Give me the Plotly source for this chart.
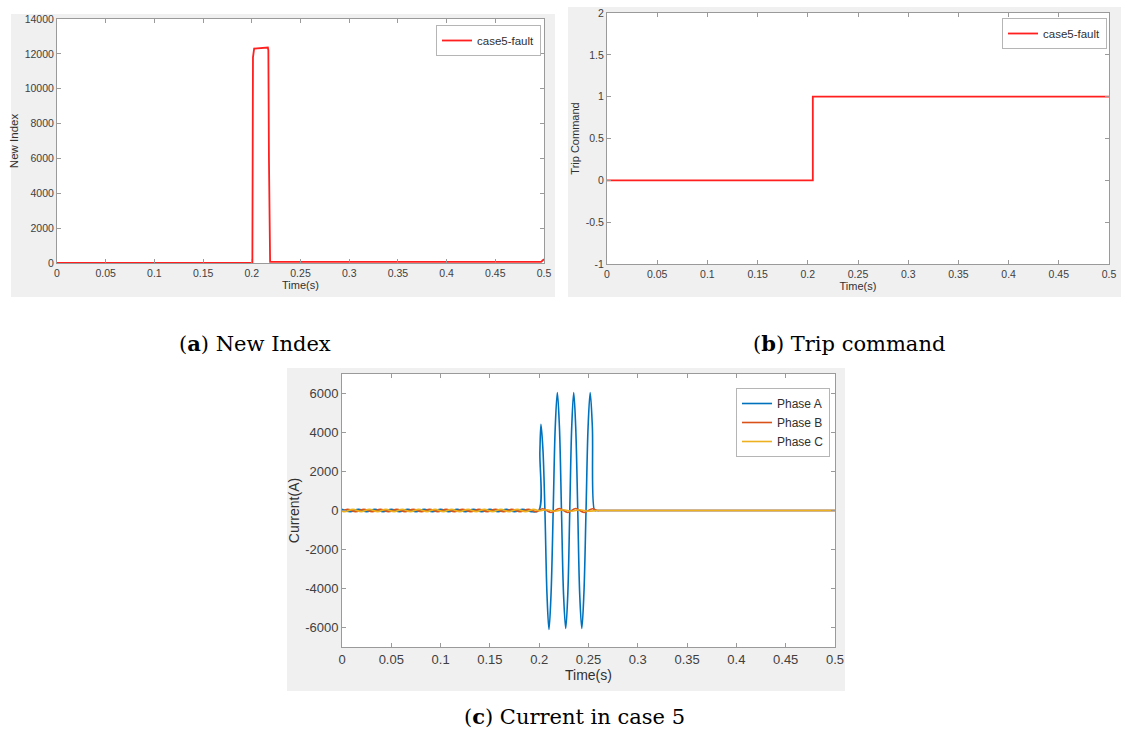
import plotly.graph_objects as go

W, H = 1121, 733

# ---------------- data ----------------
# (a) New Index
idx_t = [0.0, 0.1, 0.2006, 0.2012, 0.2018, 0.2024, 0.2165, 0.2170, 0.2176, 0.2188, 0.25, 0.35, 0.45, 0.497, 0.5]
idx_v = [0, 0, 0, 11800, 12250, 12300, 12360, 12200, 6000, 60, 60, 55, 55, 60, 220]

# (b) Trip command
trip_t = [0.0, 0.205, 0.5]
trip_v = [0, 1, 1]

# (c) Currents: key points
ia_t = [0.0, 0.0083, 0.0167, 0.025, 0.0333, 0.0417, 0.05, 0.0583, 0.0667, 0.075, 0.0833, 0.0917,
        0.1, 0.1083, 0.1167, 0.125, 0.1333, 0.1417, 0.15, 0.1583, 0.1667, 0.175, 0.1833, 0.1917,
        0.1995, 0.2007, 0.2018, 0.2038, 0.2058, 0.2079, 0.2099, 0.2120, 0.2142, 0.2163, 0.2184,
        0.2205, 0.2226, 0.2247, 0.2269, 0.2290, 0.2310, 0.2330, 0.2350, 0.2370, 0.2391, 0.2411,
        0.2432, 0.2453, 0.2475, 0.2496, 0.2517, 0.2539, 0.2562, 0.2580, 0.2650, 0.30, 0.40, 0.5]
ia_v = [60, -60, 60, -60, 60, -60, 60, -60, 60, -60, 60, -60,
        60, -60, 60, -60, 60, -60, 60, -60, 60, -60, 60, -60,
        0, 3000, 4415, 3100, 0, -4300, -6100, -4300, 0, 4300, 6050,
        4300, 0, -4300, -6050, -4300, 0, 4300, 6050, 4300, 0, -4300,
        -6050, -4300, 0, 4300, 6050, 4300, 0, 0, 0, 0, 0, 0]

ib_t = [0.0, 0.0056, 0.0139, 0.0222, 0.0306, 0.0389, 0.0472, 0.0556, 0.0639, 0.0722, 0.0806, 0.0889,
        0.0972, 0.1056, 0.1139, 0.1222, 0.1306, 0.1389, 0.1472, 0.1556, 0.1639, 0.1722, 0.1806, 0.1889,
        0.1972, 0.2035, 0.2120, 0.2205, 0.2290, 0.2370, 0.2455, 0.2540, 0.2590, 0.2620, 0.2700,
        0.30, 0.40, 0.5]
ib_v = [-30, 60, -60, 60, -60, 60, -60, 60, -60, 60, -60, 60,
        -60, 60, -60, 60, -60, 60, -60, 60, -60, 60, -60, 60,
        -60, 90, -100, 100, -100, 100, -100, 90, 0, 0, 0,
        0, 0, 0]

ic_t = [0.0, 0.0028, 0.0111, 0.0194, 0.0278, 0.0361, 0.0444, 0.0528, 0.0611, 0.0694, 0.0778, 0.0861,
        0.0944, 0.1028, 0.1111, 0.1194, 0.1278, 0.1361, 0.1444, 0.1528, 0.1611, 0.1694, 0.1778, 0.1861,
        0.1944, 0.2000, 0.2080, 0.2160, 0.2245, 0.2330, 0.2410, 0.2495, 0.2585, 0.2620, 0.2700,
        0.30, 0.40, 0.5]
ic_v = [-30, -60, 60, -60, 60, -60, 60, -60, 60, -60, 60, -60,
        60, -60, 60, -60, 60, -60, 60, -60, 60, -60, 60, -60,
        60, -20, 40, -40, 40, -40, 40, -40, 0, 0, 0,
        0, 0, 0]

# ticks
t_ticks = [0, 0.05, 0.1, 0.15, 0.2, 0.25, 0.3, 0.35, 0.4, 0.45, 0.5]
t_labels = ["0", "0.05", "0.1", "0.15", "0.2", "0.25", "0.3", "0.35", "0.4", "0.45", "0.5"]
idx_ticks = [0, 2000, 4000, 6000, 8000, 10000, 12000, 14000]
idx_labels = ["0", "2000", "4000", "6000", "8000", "10000", "12000", "14000"]
trip_ticks = [-1, -0.5, 0, 0.5, 1, 1.5, 2]
trip_labels = ["-1", "-0.5", "0", "0.5", "1", "1.5", "2"]
cur_ticks = [-6000, -4000, -2000, 0, 2000, 4000, 6000]
cur_labels = ["-6000", "-4000", "-2000", "0", "2000", "4000", "6000"]

captions = ["(<b>a</b>) New Index", "(<b>b</b>) Trip command", "(<b>c</b>) Current in case 5"]

# ---------------- layout helpers (pixel boxes) ----------------
def px_x(x):
    return x / W

def px_y(y):
    return 1 - y / H

plot_a = (57, 19, 544, 263)
plot_b = (607, 13, 1109, 264)
plot_c = (342, 374, 835, 647)
panel_a = (11, 14, 555, 297)
panel_b = (568, 7, 1121, 297)
panel_c = (287, 368, 845, 691)

fig = go.Figure()

red = "#ff1f1f"
fig.add_trace(go.Scatter(x=idx_t, y=idx_v, mode="lines", name="case5-fault", showlegend=True,
                         line=dict(color=red, width=1.8), xaxis="x", yaxis="y", legend="legend"))
fig.add_trace(go.Scatter(x=trip_t, y=trip_v, mode="lines", name="case5-fault", showlegend=True,
                         line=dict(color=red, width=1.8, shape="hv"), xaxis="x2", yaxis="y2", legend="legend2"))
fig.add_trace(go.Scatter(x=ia_t, y=ia_v, mode="lines", name="Phase A", showlegend=True,
                         line=dict(color="#0072BD", width=1.6, shape="spline", smoothing=1.0),
                         xaxis="x3", yaxis="y3", legend="legend3"))
fig.add_trace(go.Scatter(x=ib_t, y=ib_v, mode="lines", name="Phase B", showlegend=True,
                         line=dict(color="#D95319", width=1.6, shape="spline", smoothing=1.0),
                         xaxis="x3", yaxis="y3", legend="legend3"))
fig.add_trace(go.Scatter(x=ic_t, y=ic_v, mode="lines", name="Phase C", showlegend=True,
                         line=dict(color="#EDB120", width=1.6, shape="spline", smoothing=1.0),
                         xaxis="x3", yaxis="y3", legend="legend3"))

axis_common = dict(showline=True, linecolor="#9a9a9a", linewidth=1, mirror="ticks",
                   ticks="inside", ticklen=4, tickcolor="#9a9a9a", showgrid=False,
                   zeroline=False, tickmode="array", automargin=False)

def xaxis(box, size, title_size, standoff, anchor):
    return dict(axis_common, domain=[px_x(box[0]), px_x(box[2])], range=[0, 0.5],
                tickvals=t_ticks, ticktext=t_labels, anchor=anchor,
                tickfont=dict(family="Liberation Sans, Arial", color="#404040", size=size),
                title=dict(text="Time(s)", standoff=standoff,
                           font=dict(family="Liberation Sans, Arial", color="#303030", size=title_size)))

def yaxis(box, rng, vals, labels, title, size, title_size, standoff, anchor):
    return dict(axis_common, domain=[px_y(box[3]), px_y(box[1])], range=rng,
                tickvals=vals, ticktext=labels, anchor=anchor,
                tickfont=dict(family="Liberation Sans, Arial", color="#404040", size=size),
                title=dict(text=title, standoff=standoff,
                           font=dict(family="Liberation Sans, Arial", color="#303030", size=title_size)))

shapes = []
for p in (panel_a, panel_b, panel_c):
    shapes.append(dict(type="rect", xref="paper", yref="paper", x0=px_x(p[0]), x1=px_x(p[2]),
                       y0=px_y(p[3]), y1=px_y(p[1]), fillcolor="#f0f0f0", line=dict(width=0), layer="below"))
for p in (plot_a, plot_b, plot_c):
    shapes.append(dict(type="rect", xref="paper", yref="paper", x0=px_x(p[0]), x1=px_x(p[2]),
                       y0=px_y(p[3]), y1=px_y(p[1]), fillcolor="white", line=dict(width=0), layer="below"))

legend_common = dict(bgcolor="white", bordercolor="#b5b5b5", borderwidth=1,
                     xanchor="right", yanchor="top", tracegroupgap=0, itemwidth=30)

cap_font = dict(family="DejaVu Serif", size=21, color="black")

fig.update_layout(
    width=W, height=H, margin=dict(l=0, r=0, t=0, b=0, autoexpand=False),
    paper_bgcolor="white", plot_bgcolor="white", showlegend=True,
    xaxis=xaxis(plot_a, 10.5, 11, 3, "y"),
    yaxis=yaxis(plot_a, [0, 14000], idx_ticks, idx_labels, "New Index", 10.5, 11.5, 3, "x"),
    xaxis2=xaxis(plot_b, 10.5, 11, 3, "y2"),
    yaxis2=yaxis(plot_b, [-1, 2], trip_ticks, trip_labels, "Trip Command", 10.5, 11, 3, "x2"),
    xaxis3=xaxis(plot_c, 13, 14, 3, "y3"),
    yaxis3=yaxis(plot_c, [-7000, 7000], cur_ticks, cur_labels, "Current(A)", 13, 14, 2, "x3"),
    legend=dict(legend_common, x=px_x(541), y=px_y(25),
                font=dict(family="Liberation Sans, Arial", size=11.5, color="#303030")),
    legend2=dict(legend_common, x=px_x(1107), y=px_y(18),
                 font=dict(family="Liberation Sans, Arial", size=11.5, color="#303030")),
    legend3=dict(legend_common, x=px_x(830), y=px_y(388),
                 font=dict(family="Liberation Sans, Arial", size=12, color="#303030")),
    shapes=shapes,
    annotations=[
        dict(text=captions[0], x=px_x(255), y=px_y(343), xref="paper", yref="paper",
             showarrow=False, font=cap_font, xanchor="center", yanchor="middle"),
        dict(text=captions[1], x=px_x(849), y=px_y(343), xref="paper", yref="paper",
             showarrow=False, font=cap_font, xanchor="center", yanchor="middle"),
        dict(text=captions[2], x=px_x(575), y=px_y(716), xref="paper", yref="paper",
             showarrow=False, font=cap_font, xanchor="center", yanchor="middle"),
    ],
)

fig.write_html("out.html", config={"displayModeBar": False},
               post_script="document.body.style.margin='0';document.body.style.overflow='hidden';")
